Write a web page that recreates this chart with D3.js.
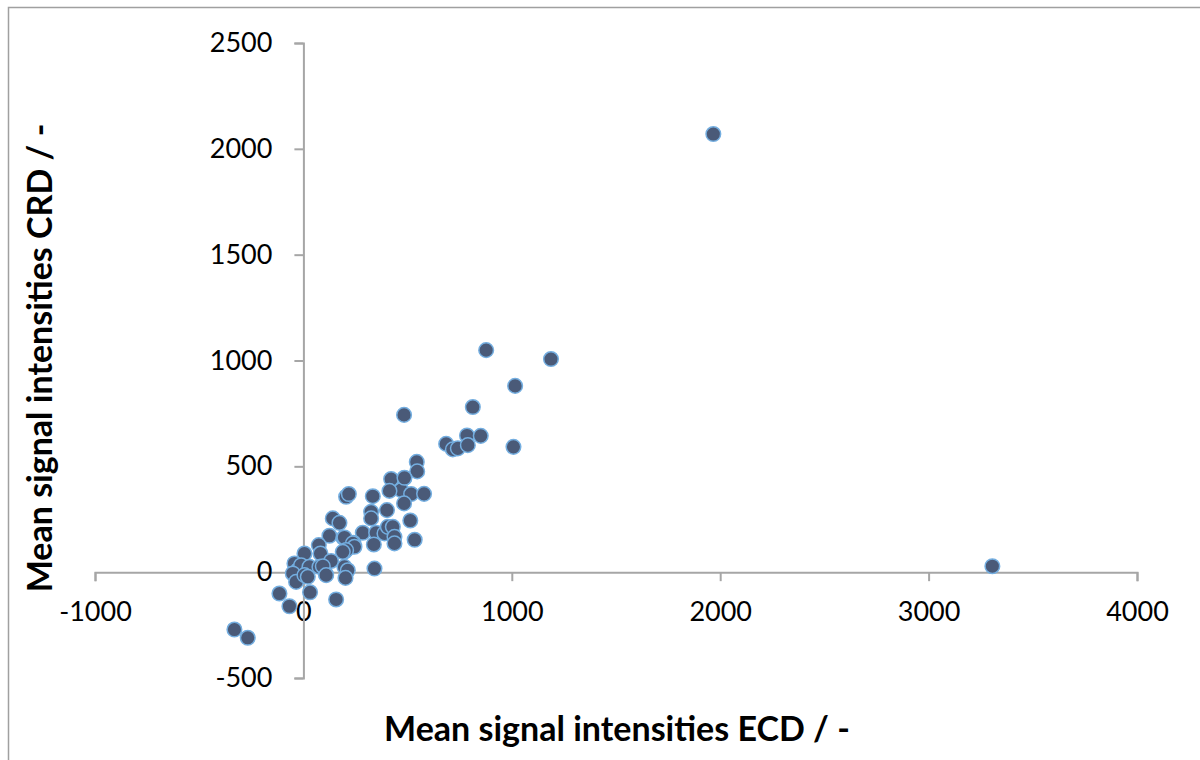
<!DOCTYPE html>
<html lang="en">
<head>
<meta charset="UTF-8">
<title>Mean signal intensities</title>
<script src="https://cdn.jsdelivr.net/npm/d3@7"></script>
<style>
  body { margin: 0; background: #fff; }
  text { font-family: Lato, "Open Sans", sans-serif; }
</style>
</head>
<body>
<script>
  // ECD vs CRD mean signal intensities
  const ecd = [1967, 3306, 877, 1188, 1016, 813, 483, 685, 717, 741, 785, 789, 851, 1008,
    544, 546, 483, 469, 517, 579, 483, 513, 534, 421, 413, 205, 218, 333, 401, 325, 325,
    141, 173, 285, 349, 389, 405, 429, 437, 125, 192, 240, 229, 338, 437, 74, 82, 197,
    133, 5, -43, -27, -11, 29, -51, -35, 5, 21, 77, 109, 197, 213, 202, 341, -115, -67,
    32, 157, -331, -267, 197, 237, 245, 205, 189, 93, 109, 485]
  const crd = [2070, 28, 1049, 1007, 880, 780, 743, 606, 580, 585, 646, 600, 644, 592,
    521, 476, 443, 388, 369, 370, 325, 244, 153, 440, 384, 356, 369, 359, 293, 285, 254,
    254, 233, 186, 186, 183, 214, 214, 167, 172, 162, 139, 120, 131, 136, 128, 88, 96,
    53, 88, 41, 9, 33, 25, -6, -46, -14, -22, 25, -11, 25, 9, -27, 17, -101, -161,
    -95, -129, -271, -310, 164, 136, 120, 104, 96, 28, -14, 446]
  const xTicks = [-1000, 0, 1000, 2000, 3000, 4000]
  const yTicks = [-500, 0, 500, 1000, 1500, 2000, 2500]

  const data = ecd.map((v, i) => ({x: v, y: crd[i]}))

  const W = 1200, H = 760
  const fmt = d => String(d)

  const svg = d3.select("body").append("svg")
    .attr("width", W)
    .attr("height", H)

  // outer chart frame
  svg.append("rect")
    .attr("x", 8.5).attr("y", 7.5)
    .attr("width", W + 10).attr("height", H + 10)
    .attr("fill", "none")
    .attr("stroke", "#a0a0a0")
    .attr("stroke-width", 1.5)

  const x = d3.scaleLinear().domain([-1000, 4000]).range([95, 1137])
  const y = d3.scaleLinear().domain([-500, 2500]).range([678, 43])

  const xAxis = svg.append("g")
    .attr("transform", `translate(0,${y(0)})`)
    .call(d3.axisBottom(x).tickValues(xTicks).tickFormat(fmt)
      .tickSize(9).tickSizeOuter(9).tickPadding(21))
  const yAxis = svg.append("g")
    .attr("transform", `translate(${x(0)},0)`)
    .call(d3.axisLeft(y).tickValues(yTicks).tickFormat(fmt)
      .tickSize(9).tickSizeOuter(9).tickPadding(22))

  for (const ax of [xAxis, yAxis]) {
    ax.selectAll("path, line").attr("stroke", "#a6a6a6").attr("stroke-width", 2)
    ax.selectAll("text")
      .attr("fill", "#000")
      .style("font-size", "27px")
      .style("font-family", "Lato, 'Open Sans', sans-serif")
  }

  svg.append("g")
    .selectAll("circle")
    .data(data)
    .join("circle")
      .attr("cx", d => x(d.x))
      .attr("cy", d => y(d.y))
      .attr("r", 7.3)
      .attr("fill", "#4a5a78")
      .attr("stroke", "#74aee0")
      .attr("stroke-width", 1.5)

  svg.append("text")
    .attr("x", 617).attr("y", 741)
    .attr("text-anchor", "middle")
    .style("font-size", "34px")
    .style("font-weight", "bold")
    .text("Mean signal intensities ECD / -")

  svg.append("text")
    .attr("transform", "translate(52,358) rotate(-90)")
    .attr("text-anchor", "middle")
    .style("font-size", "34px")
    .style("font-weight", "bold")
    .text("Mean signal intensities CRD / -")
</script>
</body>
</html>
